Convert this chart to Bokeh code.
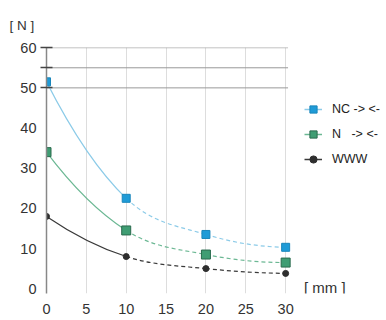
from bokeh.plotting import figure
from bokeh.models import FixedTicker, Label, Legend, LegendItem, Range1d
from bokeh.embed import file_html
from bokeh.resources import INLINE

x_mm = [0, 10, 20, 30]
nc_vals = [51.5, 22.5, 13.5, 10.3]
n_vals = [34.0, 14.5, 8.5, 6.5]
spring_vals = [18.0, 8.0, 5.0, 3.8]
y_ticks = [0, 10, 20, 30, 40, 50, 60]
y_grid_lines = [50, 55, 60]
x_ticks = [0, 5, 10, 15, 20, 25, 30]
legend_labels = ["NC -> <-", "N   -> <-", "WWW"]

FONT = "Liberation Sans"
X_END = 30.3  # where the chart area (grid) ends

p = figure(width=384, height=316, output_backend="svg", toolbar_location=None,
           x_range=Range1d(0, 42.4), y_range=Range1d(-1.2, 60.05),
           min_border_left=46, min_border_right=0, min_border_top=47, min_border_bottom=20)
p.outline_line_color = None
p.background_fill_color = "white"

p.title.text = "[ N ]"
p.title.align = "left"
p.title.offset = -37
p.title.text_font = FONT
p.title.text_font_size = "13.5px"
p.title.text_font_style = "normal"
p.title.text_color = "#333333"
p.title.standoff = 29

# axes
p.yaxis.ticker = FixedTicker(ticks=y_ticks, minor_ticks=y_grid_lines)
p.yaxis.bounds = (-1.2, 60)
p.yaxis.major_tick_line_color = None
p.yaxis.minor_tick_in = 6
p.yaxis.minor_tick_out = 6
p.yaxis.minor_tick_line_color = "#444444"
p.yaxis.minor_tick_line_width = 1.3
p.yaxis.axis_line_color = "#888888"
p.yaxis.axis_line_width = 1.5
p.yaxis.major_label_standoff = 4
p.yaxis.major_label_text_font = FONT
p.yaxis.major_label_text_font_size = "14.5px"
p.yaxis.major_label_text_color = "#333333"

p.xaxis.ticker = FixedTicker(ticks=x_ticks)
p.xaxis.axis_line_color = None
p.xaxis.major_tick_line_color = None
p.xaxis.minor_tick_line_color = None
p.xaxis.major_label_standoff = 4
p.xaxis.major_label_text_font = FONT
p.xaxis.major_label_text_font_size = "14.5px"
p.xaxis.major_label_text_color = "#333333"

p.xgrid.ticker = FixedTicker(ticks=x_ticks[1:])
p.xgrid.grid_line_color = "#dddddd"
p.xgrid.grid_line_width = 1
p.ygrid.grid_line_color = None

# horizontal grid lines limited to the chart area
p.segment(x0=[0] * len(y_grid_lines), y0=y_grid_lines,
          x1=[X_END] * len(y_grid_lines), y1=y_grid_lines,
          line_color="#999999", line_width=1)


def hermite_segments(xs, ys):
    n = len(xs)
    m = []
    for i in range(n):
        if i == 0:
            m.append((-3 * ys[0] + 4 * ys[1] - ys[2]) / (xs[2] - xs[0]))
        elif i == n - 1:
            m.append((ys[n - 3] - 4 * ys[n - 2] + 3 * ys[n - 1]) / (xs[n - 1] - xs[n - 3]))
        else:
            m.append((ys[i + 1] - ys[i - 1]) / (xs[i + 1] - xs[i - 1]))
    segs = []
    for i in range(n - 1):
        d = (xs[i + 1] - xs[i]) / 3.0
        segs.append(dict(x0=[xs[i]], y0=[ys[i]], x1=[xs[i + 1]], y1=[ys[i + 1]],
                         cx0=[xs[i] + d], cy0=[ys[i] + m[i] * d],
                         cx1=[xs[i + 1] - d], cy1=[ys[i + 1] - m[i + 1] * d]))
    return segs


series = [
    (nc_vals, "#8ccbe8", "#1f9bd7", "#1a86bb", "square", 8),
    (n_vals, "#6cb894", "#3f9d73", "#2a6a4d", "square", 9),
    (spring_vals, "#3a3a3a", "#2e2e2e", "#2e2e2e", "circle", 6),
]

renderers = []
for vals, lc, fc, oc, mk, sz in series:
    segs = hermite_segments(x_mm, vals)
    for j, s in enumerate(segs):
        p.bezier(**s, line_color=lc, line_width=1.2,
                 line_dash="solid" if j == 0 else "4 3")
    line_r = p.line([float("nan")], [float("nan")], line_color=lc, line_width=1.5)
    mr = p.scatter(x_mm, vals, marker=mk, size=sz, fill_color=fc, line_color=oc, line_width=1)
    renderers.append((line_r, mr))

items = [LegendItem(label=lab, renderers=[lr, mr]) for lab, (lr, mr) in zip(legend_labels, renderers)]
legend = Legend(items=items, location=(258, 124), orientation="vertical",
                glyph_width=18, glyph_height=20, label_standoff=10, spacing=5,
                padding=0, margin=0, border_line_color=None, background_fill_alpha=0,
                label_text_font=FONT, label_text_font_size="12.5px", label_text_color="#222222")
p.add_layout(legend, "center")

p.add_layout(Label(x=32.3, y=0.3, text="[  mm  ]", text_font=FONT, text_font_size="15px",
                   text_color="#333333", text_baseline="middle"))

open("out.html", "w").write(file_html(p, INLINE))
